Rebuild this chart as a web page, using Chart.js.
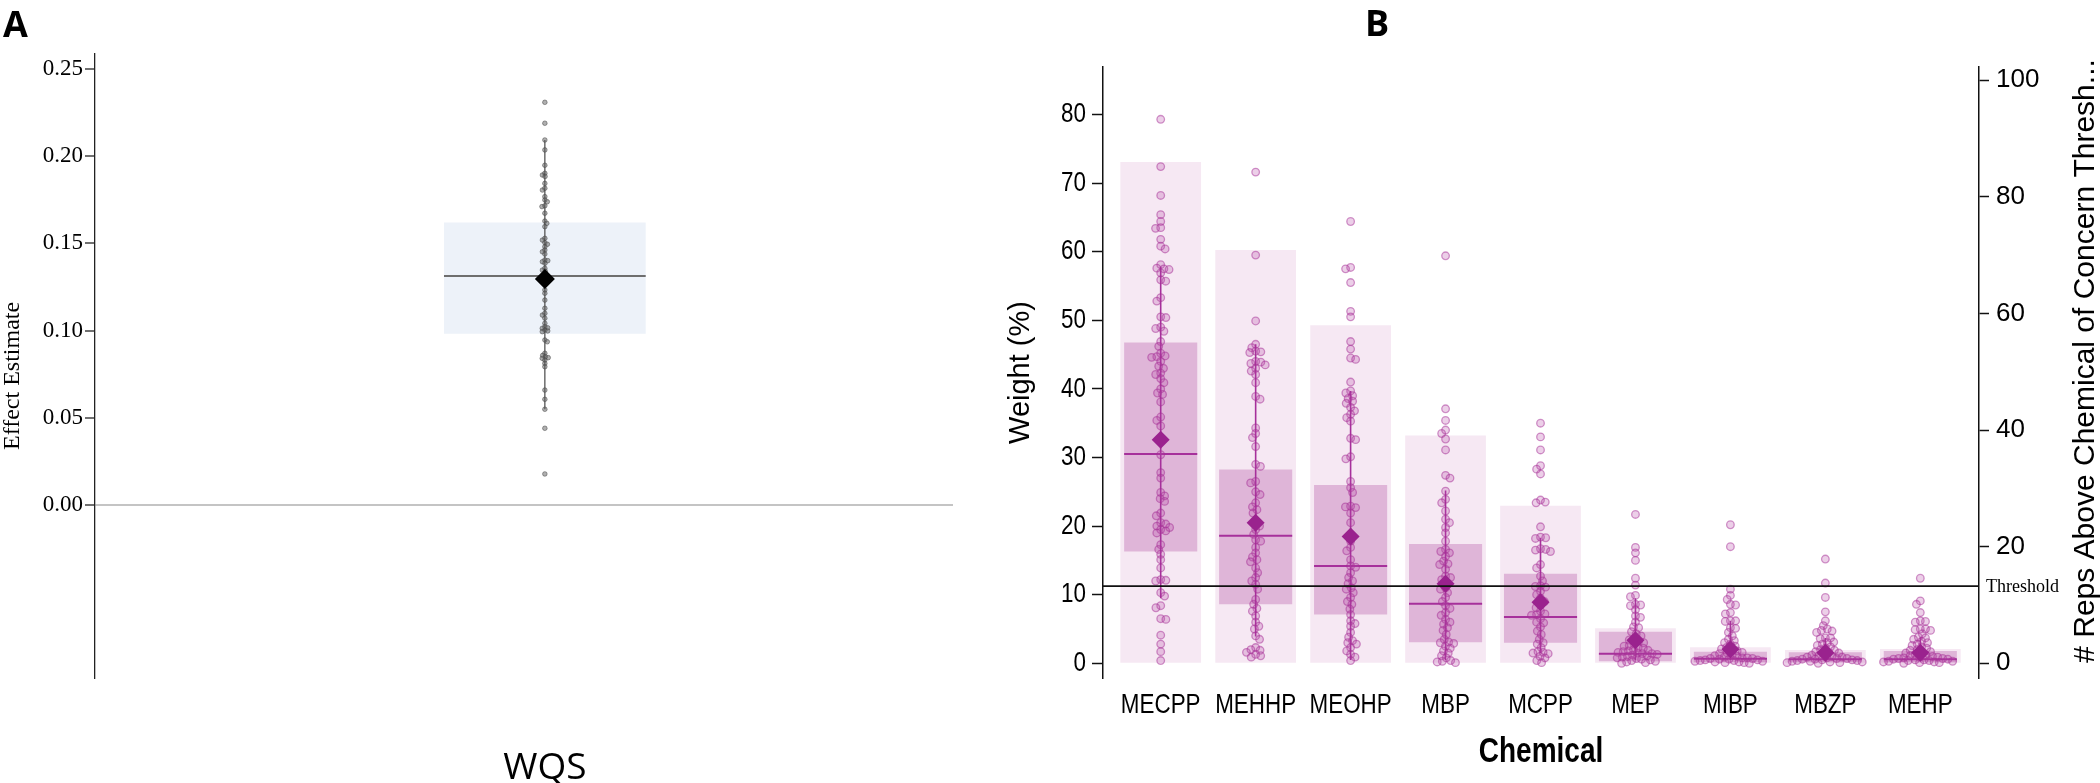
<!DOCTYPE html>
<html><head><meta charset="utf-8">
<script src="https://cdn.jsdelivr.net/npm/chart.js@4.4.1/dist/chart.umd.min.js"></script>
<style>
html,body{margin:0;padding:0;background:#fff;width:2100px;height:783px;overflow:hidden}
#ca{position:absolute;left:0;top:0}
#cb{position:absolute;left:990px;top:0}
</style></head><body>
<canvas id="ca" width="990" height="783"></canvas>
<canvas id="cb" width="1110" height="783"></canvas>
<script>
// ---------------- Panel A data ----------------
const wqsLabel = 'WQS';
const wqsTickValues = [0, 0.05, 0.10, 0.15, 0.20, 0.25];
const wqsEstimates = [0.2309, 0.2189, 0.2093, 0.2036, 0.1948, 0.1902, 0.1892, 0.1884, 0.1844, 0.1816, 0.1806, 0.1768, 0.1749, 0.1739, 0.1716, 0.1711, 0.1673, 0.1628, 0.1615, 0.1596, 0.1529, 0.1519, 0.1504, 0.1495, 0.1481, 0.1462, 0.1452, 0.1439, 0.1405, 0.1401, 0.1395, 0.1386, 0.1357, 0.1347, 0.1340, 0.1233, 0.1214, 0.1175, 0.1128, 0.1099, 0.1089, 0.1071, 0.1042, 0.1022, 0.1016, 0.1013, 0.1003, 0.0998, 0.0994, 0.0946, 0.0936, 0.0870, 0.0858, 0.0850, 0.0845, 0.0841, 0.0831, 0.0812, 0.0793, 0.0659, 0.0606, 0.0549, 0.0440, 0.0178];
const wqsMean = 0.1296;
const wqsMedian = 0.1313;
const wqsQ1 = 0.0982;
const wqsQ3 = 0.1620;
const wqsWhiskerLow = 0.0549;
const wqsWhiskerHigh = 0.2093;

// ---------------- Panel B data ----------------
const chemicals = ['MECPP', 'MEHHP', 'MEOHP', 'MBP', 'MCPP', 'MEP', 'MIBP', 'MBZP', 'MEHP'];
const leftTickValues = [0, 10, 20, 30, 40, 50, 60, 70, 80];
const rightTickValues = [0, 20, 40, 60, 80, 100];
const weightUpper  = [73.06, 60.24, 49.27, 33.2, 22.96, 5.1, 2.35, 1.95, 2.1];
const weightQ3     = [46.75, 28.25, 26.0, 17.4, 13.06, 4.6, 1.7, 1.6, 1.8];
const weightQ1     = [16.3, 8.6, 7.1, 3.06, 3.0, 0.3, 0.15, 0.15, 0.15];
const weightMedian = [30.5, 18.6, 14.2, 8.7, 6.75, 1.41, 0.65, 0.6, 0.6];
const weightMean   = [32.6, 20.5, 18.5, 11.6, 8.9, 3.35, 2.04, 1.55, 1.55];
const whiskerLow   = [9.5, 3.9, 0.5, 0.5, 1.5, 0.5, 0.5, 0.5, 0.5];
const whiskerHigh  = [57.8, 46.5, 39.7, 25.2, 18.3, 9.5, 6.2, 3.7, 3.8];
const thresholdWeight = 11.25;

const weightsMECPP = [79.3, 72.4, 68.2, 65.4, 64.4, 63.5, 63.4, 61.8, 60.8, 60.4, 58.1, 57.6, 57.5, 57.4, 56.9, 55.9, 55.7, 53.3, 52.8, 50.5, 50.4, 49.0, 48.8, 48.4, 46.9, 46.2, 45.2, 44.8, 44.7, 44.6, 44.0, 43.3, 43.0, 42.3, 42.1, 41.5, 40.9, 40.0, 39.4, 39.2, 38.1, 35.9, 35.4, 34.6, 30.4, 27.8, 27.0, 24.9, 24.4, 24.0, 23.6, 21.9, 21.5, 20.5, 20.3, 20.0, 19.8, 19.5, 19.3, 19.0, 17.3, 16.6, 15.9, 15.1, 13.9, 12.2, 12.1, 12.0, 10.3, 9.8, 8.4, 8.1, 6.5, 6.4, 4.1, 2.8, 1.7, 0.4];
const weightsMEHHP = [71.6, 59.5, 49.9, 46.5, 46.0, 45.5, 45.4, 45.3, 44.0, 43.9, 43.7, 43.5, 43.0, 42.6, 42.1, 40.9, 38.9, 38.5, 34.3, 33.5, 32.9, 31.6, 29.0, 28.7, 26.5, 26.3, 25.0, 24.6, 23.4, 22.8, 22.4, 21.9, 20.5, 20.0, 19.5, 18.8, 18.0, 17.8, 16.9, 16.1, 15.5, 15.1, 14.8, 13.9, 13.2, 12.5, 12.0, 11.5, 10.8, 9.3, 8.6, 8.0, 7.6, 6.9, 6.0, 5.4, 5.0, 4.0, 3.5, 2.3, 2.0, 1.9, 1.6, 1.3, 1.1, 0.9];
const weightsMEOHP = [64.4, 57.7, 57.5, 55.5, 51.3, 50.5, 46.9, 45.8, 44.5, 44.3, 41.0, 39.7, 39.4, 39.0, 38.6, 38.2, 37.9, 37.3, 36.8, 36.3, 35.8, 35.3, 32.8, 32.6, 30.1, 29.8, 26.5, 25.6, 24.9, 22.9, 22.8, 22.7, 21.9, 20.5, 18.8, 17.8, 16.9, 16.4, 15.1, 14.2, 14.0, 13.2, 12.5, 12.0, 11.6, 11.0, 10.8, 10.3, 9.6, 9.0, 8.6, 7.9, 7.1, 6.2, 5.8, 5.4, 4.5, 3.8, 3.3, 3.0, 2.8, 2.3, 1.8, 1.3, 0.9, 0.4];
const weightsMBP = [59.4, 37.1, 35.4, 34.0, 33.5, 32.7, 31.1, 27.4, 27.0, 25.1, 23.9, 23.4, 22.2, 21.0, 20.5, 19.8, 19.0, 17.8, 16.6, 16.3, 16.1, 15.6, 14.9, 14.5, 14.4, 13.7, 12.7, 12.5, 12.2, 11.8, 11.0, 10.8, 10.3, 9.6, 9.0, 8.4, 8.0, 7.4, 7.0, 6.4, 6.0, 5.7, 5.2, 4.8, 4.2, 3.5, 3.1, 3.0, 2.9, 2.5, 2.2, 1.8, 1.5, 1.1, 0.8, 0.4, 0.3, 0.2, 0.1];
const weightsMCPP = [35.0, 33.0, 31.1, 28.8, 28.3, 27.6, 23.8, 23.5, 23.4, 19.9, 18.4, 18.3, 18.2, 16.7, 16.6, 16.5, 16.3, 14.4, 13.9, 12.7, 12.0, 11.3, 11.2, 11.1, 10.5, 10.0, 9.5, 9.0, 8.5, 8.1, 7.6, 7.2, 7.1, 7.0, 6.5, 6.0, 5.9, 5.3, 4.7, 4.2, 3.5, 3.0, 2.8, 2.3, 1.7, 1.6, 1.5, 1.4, 1.0, 0.8, 0.4, 0.1];
const weightsMEP = [21.7, 16.9, 16.1, 15.0, 12.4, 11.4, 9.9, 9.7, 8.6, 8.5, 8.4, 7.8, 6.9, 6.7, 6.0, 5.3, 5.2, 4.6, 4.3, 4.0, 3.6, 3.4, 3.2, 3.0, 2.8, 2.6, 2.5, 2.3, 2.2, 2.0, 1.9, 1.8, 1.7, 1.6, 1.5, 1.4, 1.4, 1.3, 1.2, 1.1, 1.0, 0.9, 0.8, 0.7, 0.6, 0.5, 0.4, 0.3, 0.2, 0.1, 0.0];
const weightsMIBP = [20.2, 17.0, 10.8, 9.9, 9.3, 8.6, 8.5, 7.4, 7.2, 6.2, 6.2, 6.1, 5.2, 5.1, 4.5, 4.0, 3.5, 3.3, 3.0, 2.8, 2.5, 2.3, 2.1, 2.0, 1.8, 1.6, 1.5, 1.4, 1.2, 1.1, 1.0, 0.9, 0.8, 0.8, 0.7, 0.7, 0.6, 0.6, 0.5, 0.5, 0.4, 0.4, 0.3, 0.3, 0.2, 0.2, 0.1, 0.1, 0.0];
const weightsMBZP = [15.2, 11.7, 9.6, 7.5, 6.2, 5.5, 5.0, 4.8, 4.7, 4.5, 3.7, 3.7, 3.6, 3.1, 3.0, 2.8, 2.6, 2.4, 2.2, 2.0, 1.9, 1.7, 1.6, 1.5, 1.4, 1.2, 1.1, 1.0, 0.9, 0.9, 0.8, 0.7, 0.7, 0.6, 0.6, 0.5, 0.5, 0.4, 0.4, 0.3, 0.3, 0.2, 0.2, 0.1, 0.1, 0.0];
const weightsMEHP = [12.4, 9.1, 8.6, 7.4, 6.2, 6.1, 6.0, 5.0, 5.0, 4.9, 4.8, 4.3, 3.8, 3.7, 3.5, 3.2, 3.0, 2.8, 2.6, 2.4, 2.2, 2.0, 1.9, 1.7, 1.6, 1.5, 1.3, 1.2, 1.1, 1.0, 0.9, 0.9, 0.8, 0.7, 0.7, 0.6, 0.6, 0.5, 0.5, 0.4, 0.4, 0.3, 0.3, 0.2, 0.2, 0.1, 0.1, 0.0];
const weightsByChemical = [weightsMECPP, weightsMEHHP, weightsMEOHP, weightsMBP, weightsMCPP, weightsMEP, weightsMIBP, weightsMBZP, weightsMEHP];

// ---------------- helpers ----------------
Chart.defaults.color = '#000';
Chart.defaults.animation = false;
Chart.defaults.events = [];
Chart.defaults.plugins.legend.display = false;
Chart.defaults.plugins.tooltip.enabled = false;

function beeswarm(pixYs, dmin) {
  const order = pixYs.map((y, i) => i).sort((a, b) => pixYs[a] - pixYs[b]);
  const placed = [];
  const out = new Array(pixYs.length).fill(0);
  let flip = 1;
  for (const i of order) {
    const y = pixYs[i];
    const ivs = [];
    for (const p of placed) {
      const dy = Math.abs(p.y - y);
      if (dy < dmin) { const h = Math.sqrt(dmin * dmin - dy * dy); ivs.push([p.x - h, p.x + h]); }
    }
    const cands = [0];
    ivs.forEach(iv => cands.push(iv[0], iv[1]));
    cands.sort((a, b) => (Math.abs(a) - Math.abs(b)) || (flip * (a - b)));
    let x = 0;
    for (const c of cands) {
      if (!ivs.some(iv => c > iv[0] + 1e-6 && c < iv[1] - 1e-6)) { x = c; break; }
    }
    if (x !== 0) flip = -flip;
    placed.push({x, y});
    out[i] = x;
  }
  return out;
}

function condensedText(ctx, text, x, y, sx) {
  ctx.save();
  ctx.translate(x, y);
  ctx.scale(sx, 1);
  ctx.fillText(text, 0, 0);
  ctx.restore();
}

const onlyTicks = (vals) => (axis) => { axis.ticks = vals.map(v => ({value: v})); };

// ---------------- Panel A chart ----------------
const xMinA = -0.5243, xMaxA = 0.4757;
const boxFracA = 0.2351;
const textA = {
  id: 'textA',
  afterDraw(chart) {
    const ctx = chart.ctx;
    ctx.save();
    ctx.fillStyle = '#000';
    ctx.font = 'bold 36px "Open Sans"';
    ctx.textAlign = 'left'; ctx.textBaseline = 'alphabetic';
    ctx.fillText('A', 3, 37);
    ctx.font = '24px "Liberation Serif"';
    ctx.translate(19, chart.scales.y.getPixelForValue(0.074));
    ctx.rotate(-Math.PI / 2);
    ctx.textAlign = 'center';
    ctx.fillText('Effect Estimate', 0, 0);
    ctx.restore();
  }
};
const chartA = new Chart(document.getElementById('ca'), {
  type: 'bar',
  data: { datasets: [
    { type: 'bar', label: 'IQR', data: [{x: 0, y: [wqsQ1, wqsQ3]}], backgroundColor: '#edf2f9', borderWidth: 0,
      categoryPercentage: 1, barPercentage: boxFracA, grouped: false, order: 5 },
    { type: 'line', label: 'Median', data: [{x: -boxFracA / 2 * (xMaxA - xMinA), y: wqsMedian}, {x: boxFracA / 2 * (xMaxA - xMinA), y: wqsMedian}],
      borderColor: '#6e6e6e', borderWidth: 1.8, pointRadius: 0, order: 4 },
    { type: 'line', label: 'Whisker', data: [{x: 0, y: wqsWhiskerLow}, {x: 0, y: wqsWhiskerHigh}],
      borderColor: '#555', borderWidth: 1.3, pointRadius: 0, order: 3 },
    { type: 'scatter', label: 'Estimates', data: wqsEstimates.map(v => ({x: 0, y: v})), pointRadius: 2.3,
      backgroundColor: 'rgba(95,95,95,0.5)', borderColor: 'rgba(70,70,70,0.65)', borderWidth: 0.8, order: 2 },
    { type: 'scatter', label: 'Mean', data: [{x: 0, y: wqsMean}], pointStyle: 'rectRot', pointRadius: 10,
      backgroundColor: '#000', borderColor: '#000', borderWidth: 0, order: 1 }
  ]},
  options: {
    responsive: false,
    layout: { padding: { left: 0, right: 37, top: 54, bottom: 0 } },
    scales: {
      x: { type: 'linear', min: xMinA, max: xMaxA, offset: false,
        afterBuildTicks: onlyTicks([0]),
        ticks: { callback: () => wqsLabel, font: { family: 'Open Sans', size: 37 }, padding: 60, color: '#000' },
        grid: { display: false }, border: { display: false },
        afterFit: (ax) => { ax.height = 105; } },
      y: { type: 'linear', min: -0.0992, max: 0.2586,
        afterBuildTicks: onlyTicks(wqsTickValues),
        ticks: { callback: (v) => v.toFixed(2), font: { family: 'Liberation Serif', size: 23 }, padding: 2, color: '#000' },
        grid: { drawOnChartArea: true, color: (c) => (c.tick && Math.abs(c.tick.value) < 1e-9) ? '#c4c4c4' : 'rgba(0,0,0,0)',
          lineWidth: 2, tickColor: '#222', tickLength: 10, tickWidth: 1.3 },
        border: { display: true, color: '#222', width: 1.3 },
        afterFit: (ax) => { ax.width = 95; } }
    }
  },
  plugins: [textA]
});
(function () {
  const ys = chartA.scales.y, xs = chartA.scales.x;
  const ppu = xs.getPixelForValue(1) - xs.getPixelForValue(0);
  const off = beeswarm(wqsEstimates.map(v => ys.getPixelForValue(v)), 3.0);
  chartA.data.datasets[3].data = wqsEstimates.map((v, k) => ({x: off[k] / ppu, y: v}));
  chartA.update('none');
})();

// ---------------- Panel B chart ----------------
const xMinB = -0.6077, xMaxB = 8.618;
const yMinB = -2.14, yMaxB = 86.92, rightScale = 100 / 85;
const rangeFrac = 0.85, iqrFrac = 0.77;
const purple = '#9a228e';
const narrowX = 0.8;
const textB = {
  id: 'textB',
  afterDraw(chart) {
    const ctx = chart.ctx, ca = chart.chartArea;
    const xs = chart.scales.x, ys = chart.scales.y;
    ctx.save();
    ctx.fillStyle = '#000';
    ctx.font = 'bold 36px "Open Sans"';
    ctx.textAlign = 'left'; ctx.textBaseline = 'alphabetic';
    ctx.fillText('B', 375, 36);
    // Threshold label
    ctx.font = '18px "Liberation Serif"';
    ctx.textBaseline = 'middle';
    ctx.fillText('Threshold', ca.right + 7, ys.getPixelForValue(thresholdWeight) + 1);
    // category tick labels (narrow face)
    ctx.font = '28px "Liberation Sans"';
    ctx.textAlign = 'center'; ctx.textBaseline = 'middle';
    xs.ticks.forEach((t) => condensedText(ctx, chemicals[Math.round(t.value)], xs.getPixelForValue(t.value), 705, narrowX));
    // left tick labels (narrow face)
    ctx.textAlign = 'right';
    ys.ticks.forEach((t) => condensedText(ctx, String(t.value), ca.left - 17, ys.getPixelForValue(t.value), narrowX));
    // Chemical
    ctx.font = 'bold 35px "Liberation Sans"';
    ctx.textAlign = 'center';
    condensedText(ctx, 'Chemical', (ca.left + ca.right) / 2, 752, narrowX);
    // Weight (%)
    ctx.save();
    ctx.font = '29px "Liberation Sans"';
    ctx.textBaseline = 'alphabetic';
    ctx.translate(39, (ca.top + ca.bottom) / 2);
    ctx.rotate(-Math.PI / 2);
    ctx.fillText('Weight (%)', 0, 0);
    ctx.restore();
    // right title
    ctx.save();
    ctx.font = '30px "Liberation Sans"';
    ctx.textBaseline = 'alphabetic';
    ctx.translate(1104, 361);
    ctx.rotate(-Math.PI / 2);
    ctx.fillText('# Reps Above Chemical of Concern Thresh...', 0, 0);
    ctx.restore();
    ctx.restore();
  }
};

const medianSegs = [], whiskerSegs = [];
chemicals.forEach((c, i) => {
  medianSegs.push({x: i - iqrFrac / 2, y: weightMedian[i]}, {x: i + iqrFrac / 2, y: weightMedian[i]}, {x: i, y: null});
  whiskerSegs.push({x: i, y: whiskerLow[i]}, {x: i, y: whiskerHigh[i]}, {x: i, y: null});
});

const pointDatasets = chemicals.map((c, i) => ({
  type: 'scatter', label: c, data: weightsByChemical[i].map(v => ({x: i, y: v})),
  pointRadius: 3.8, backgroundColor: 'rgba(180,70,165,0.26)', borderColor: 'rgba(165,45,150,0.5)', borderWidth: 1.3, order: 2
}));

const chartB = new Chart(document.getElementById('cb'), {
  type: 'bar',
  data: { datasets: [
    { type: 'bar', label: 'Range', data: chemicals.map((c, i) => ({x: i, y: [0, weightUpper[i]]})), backgroundColor: '#f6e8f3',
      borderWidth: 0, categoryPercentage: 1, barPercentage: rangeFrac, grouped: false, order: 10 },
    { type: 'bar', label: 'IQR', data: chemicals.map((c, i) => ({x: i, y: [weightQ1[i], weightQ3[i]]})), backgroundColor: '#dfb5d8',
      borderWidth: 0, categoryPercentage: 1, barPercentage: iqrFrac, grouped: false, order: 9 },
    { type: 'line', label: 'Median', data: medianSegs, borderColor: '#a6309b', borderWidth: 2, pointRadius: 0, spanGaps: false, order: 4 },
    { type: 'line', label: 'Whisker', data: whiskerSegs, borderColor: '#a6309b', borderWidth: 1.6, pointRadius: 0, spanGaps: false, order: 3 },
    ...pointDatasets,
    { type: 'scatter', label: 'Mean', data: chemicals.map((c, i) => ({x: i, y: weightMean[i]})), pointStyle: 'rectRot', pointRadius: 9,
      backgroundColor: purple, borderColor: purple, borderWidth: 0, order: 1 },
    { type: 'line', label: 'Threshold', data: [{x: xMinB, y: thresholdWeight}, {x: xMaxB, y: thresholdWeight}],
      borderColor: '#111', borderWidth: 1.6, pointRadius: 0, order: 0 }
  ]},
  options: {
    responsive: false,
    layout: { padding: { left: 0, right: 0, top: 67, bottom: 0 } },
    scales: {
      x: { type: 'linear', min: xMinB, max: xMaxB, offset: false,
        afterBuildTicks: onlyTicks(chemicals.map((c, i) => i)),
        ticks: { display: false },
        grid: { display: false }, border: { display: false },
        afterFit: (ax) => { ax.height = 105; } },
      y: { type: 'linear', position: 'left', min: yMinB, max: yMaxB,
        afterBuildTicks: onlyTicks(leftTickValues),
        ticks: { display: false },
        grid: { drawOnChartArea: false, tickColor: '#111', tickLength: 11, tickWidth: 1.5 },
        border: { display: true, color: '#111', width: 1.5 },
        afterFit: (ax) => { ax.width = 113; } },
      y2: { type: 'linear', position: 'right', min: yMinB * rightScale, max: yMaxB * rightScale,
        afterBuildTicks: onlyTicks(rightTickValues),
        ticks: { font: { family: 'Liberation Sans', size: 26 }, padding: 7, color: '#000' },
        grid: { drawOnChartArea: false, tickColor: '#111', tickLength: 10, tickWidth: 1.5 },
        border: { display: true, color: '#111', width: 1.5 },
        afterFit: (ax) => { ax.width = 121; } }
    }
  },
  plugins: [textB]
});
(function () {
  const ys = chartB.scales.y, xs = chartB.scales.x;
  const ppu = xs.getPixelForValue(1) - xs.getPixelForValue(0);
  chemicals.forEach((c, i) => {
    const vals = weightsByChemical[i];
    const off = beeswarm(vals.map(v => ys.getPixelForValue(v)), 5.2);
    chartB.data.datasets[4 + i].data = vals.map((v, k) => ({x: i + off[k] / ppu, y: v}));
  });
  chartB.update('none');
})();
</script>
</body></html>
